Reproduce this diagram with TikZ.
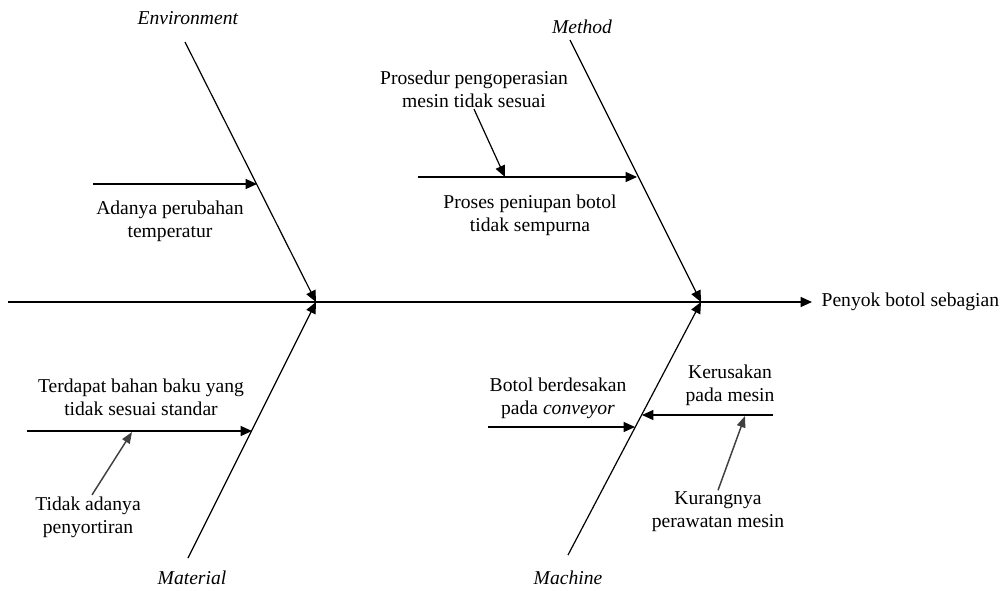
\documentclass[tikz,border=0pt]{standalone}
\usepackage{fontspec}
\setmainfont{Liberation Serif}
\usetikzlibrary{arrows.meta}

\begin{document}
\begin{tikzpicture}[x=0.75pt, y=-0.75pt]
\tikzset{texte/.style={align=center, font=\fontsize{14.7}{17.4}\selectfont, inner sep=1pt},
fleche/.style={-{Triangle[length=8.5pt, width=7.5pt]}, line width=0.9pt},
grise/.style={fleche, line width=1.1pt, draw=black!75, -{Triangle[length=8.5pt, width=6.5pt, fill=black!75]}}}
\useasboundingbox (0, 0) rectangle (1004, 590);
\node[texte] (E) at (188, 18) {\textit{Environment}};
\node[texte] (M1) at (582, 27) {\textit{Method}};
\node[texte] (M2) at (192, 578) {\textit{Material}};
\node[texte] (M3) at (568, 578) {\textit{Machine}};
\node[texte, anchor=west, inner xsep=7pt] (effet) at (812, 302) {Penyok botol sebagian};
\coordinate (queue) at (8, 302);
\coordinate (T1) at (316, 302);
\coordinate (T2) at (701, 302);
\coordinate (E0) at (185, 42);
\coordinate (M10) at (570, 40);
\coordinate (M20) at (188, 558);
\coordinate (M30) at (568, 555);
\draw[fleche] (queue) -- (effet.west);
\draw[fleche] (E0) -- (T1);
\draw[fleche] (M20) -- (T1);
\draw[fleche] (M10) -- (T2);
\draw[fleche] (M30) -- (T2);
% causes
\node[texte] (C1) at (170, 221) {Adanya perubahan\\temperatur};
\coordinate (C1a) at (93, 184);
\coordinate (C1b) at (257, 184);
\draw[fleche] (C1a) -- (C1b);
\node[texte] (C2) at (474, 89) {Prosedur pengoperasian\\mesin tidak sesuai};
\node[texte] (C3) at (530, 215) {Proses peniupan botol\\tidak sempurna};
\coordinate (C3a) at (418, 177);
\coordinate (C3b) at (637, 177);
\coordinate (C3c) at (505, 177);
\draw[fleche] (C3a) -- (C3b);
\draw[fleche] (C2.south) -- (C3c);
\node[texte] (C4) at (141, 397) {Terdapat bahan baku yang\\tidak sesuai standar};
\node[texte] (C5) at (88, 517) {Tidak adanya\\penyortiran};
\coordinate (C4a) at (27, 431);
\coordinate (C4b) at (252, 431);
\coordinate (C4c) at (132, 432);
\draw[fleche] (C4a) -- (C4b);
\draw[grise] ([xshift=3pt]C5.north) -- (C4c);
\node[texte] (C6) at (558, 398) {Botol berdesakan\\pada \textit{conveyor}};
\coordinate (C6a) at (488, 427);
\coordinate (C6b) at (635, 427);
\draw[fleche] (C6a) -- (C6b);
\node[texte] (C7) at (730, 385) {Kerusakan\\pada mesin};
\node[texte] (C8) at (718, 512) {Kurangnya\\perawatan mesin};
\coordinate (C7a) at (773, 415);
\coordinate (C7b) at (642, 415);
\coordinate (C7c) at (745, 416);
\draw[fleche] (C7a) -- (C7b);
\draw[grise] (C8.north) -- (C7c);
\end{tikzpicture}
\end{document}
